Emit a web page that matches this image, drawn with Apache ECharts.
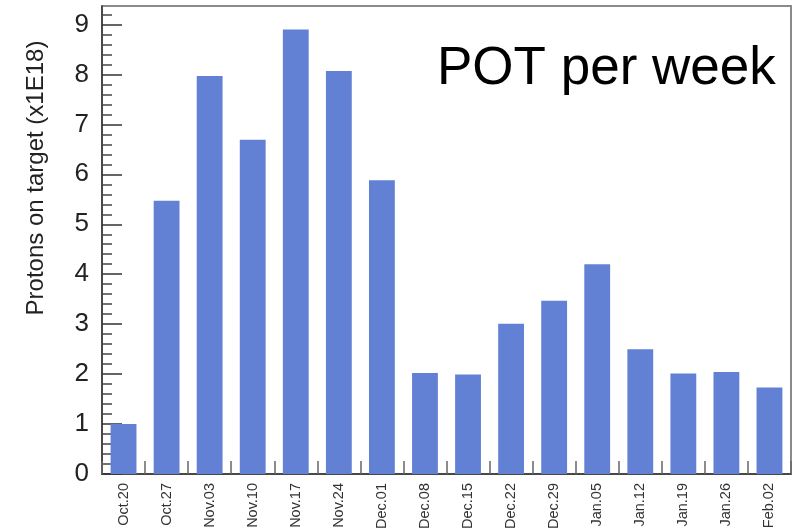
<!DOCTYPE html>
<html>
<head>
<meta charset="utf-8">
<script src="https://cdn.jsdelivr.net/npm/echarts@6/dist/echarts.min.js"></script>
<style>
html,body{margin:0;padding:0;background:#fff;}
#chart{width:795px;height:532px;}
</style>
</head>
<body>
<div id="chart"></div>
<script>
var categories = ['Oct.20','Oct.27','Nov.03','Nov.10','Nov.17','Nov.24','Dec.01','Dec.08','Dec.15','Dec.22','Dec.29','Jan.05','Jan.12','Jan.19','Jan.26','Feb.02'];
var potValues = [1.00, 5.47, 7.97, 6.69, 8.90, 8.07, 5.88, 2.02, 1.99, 3.01, 3.47, 4.20, 2.50, 2.01, 2.04, 1.73];
var yMajorTicks = [0, 1, 2, 3, 4, 5, 6, 7, 8, 9];
var yMax = 9.37;
var titleText = 'POT per week';
var yTitle = 'Protons on target (x1E18)';

var yMinorTicks = [];
for (var i = 0; i < yMajorTicks.length; i++) {
  for (var k = 1; k < 5; k++) {
    var v = +(yMajorTicks[i] + k * 0.2).toFixed(2);
    if (v < yMax) yMinorTicks.push(v);
  }
}

var chart = echarts.init(document.getElementById('chart'), null, {renderer: 'canvas'});
var FONT = 'Liberation Sans, Arial, Helvetica, sans-serif';
chart.setOption({
  animation: false,
  backgroundColor: '#ffffff',
  title: {
    text: titleText,
    left: 432,
    top: 38,
    textStyle: {fontFamily: FONT, fontSize: 53, fontWeight: 'normal', color: '#000'}
  },
  graphic: [{
    type: 'text',
    x: 36,
    y: 178,
    rotation: Math.PI / 2,
    style: {
      text: yTitle,
      font: '24px Liberation Sans, Arial, sans-serif',
      fill: '#222',
      textAlign: 'center',
      textVerticalAlign: 'middle'
    }
  }],
  grid: {
    left: 102, right: 4, top: 6, bottom: 58,
    show: true, borderColor: '#8a8a8a', borderWidth: 2, backgroundColor: 'transparent',
    containLabel: false
  },
  xAxis: {
    type: 'category',
    data: categories,
    boundaryGap: true,
    axisLine: {lineStyle: {color: '#333', width: 1.5}},
    axisTick: {show: true, inside: true, length: 13, alignWithLabel: false, lineStyle: {color: '#666', width: 1.5}},
    axisLabel: {
      rotate: 90, margin: 9, interval: 0,
      fontFamily: FONT,
      fontSize: 14.5, color: '#333'
    },
    splitLine: {show: false}
  },
  yAxis: [{
    type: 'value',
    min: 0, max: yMax,
    axisLine: {show: true, lineStyle: {color: '#333', width: 1.5}},
    axisTick: {show: true, inside: true, length: 20, customValues: yMajorTicks, lineStyle: {color: '#333', width: 1.5}},
    axisLabel: {customValues: yMajorTicks, margin: 13, padding: [10, 0, 0, 0], fontFamily: FONT, fontSize: 26, color: '#222'},
    splitLine: {show: false}
  }, {
    type: 'value',
    min: 0, max: yMax,
    position: 'left',
    axisLine: {show: false},
    axisTick: {show: true, inside: true, length: 10, customValues: yMinorTicks, lineStyle: {color: '#444', width: 1.5}},
    axisLabel: {show: false},
    splitLine: {show: false}
  }],
  series: [{
    type: 'bar',
    data: potValues,
    barCategoryGap: '40%',
    itemStyle: {color: '#6281d5'},
    yAxisIndex: 0
  }]
});
</script>
</body>
</html>
